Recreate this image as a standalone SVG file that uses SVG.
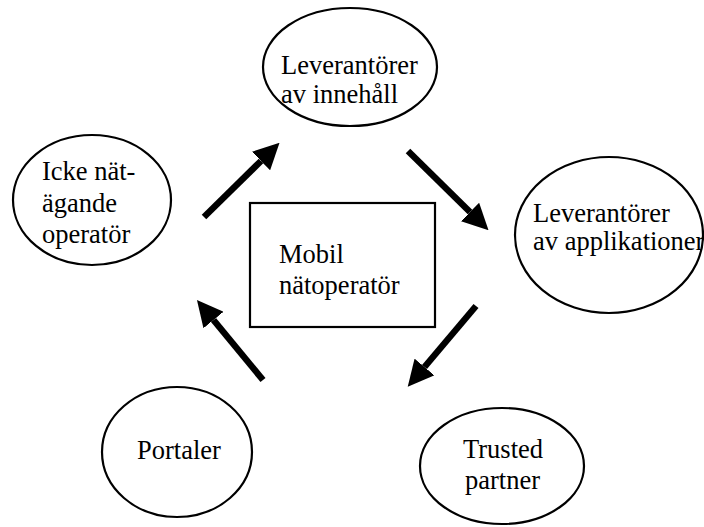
<svg xmlns="http://www.w3.org/2000/svg" width="704" height="527" viewBox="0 0 704 527">
<style>
.node ellipse, .node rect { fill: #fff; stroke: #000; stroke-width: 2.2; }
text { font-family: "Liberation Serif", "Times New Roman", serif; font-size: 26.5px; fill: #000; }
.conn line { stroke: #000; stroke-width: 6.5; }
</style>
<defs>
<marker id="ah" viewBox="0 -13 26 26" refX="0" refY="0" markerWidth="26" markerHeight="26" markerUnits="userSpaceOnUse" orient="auto">
<path d="M0,-13 L26,0 L0,13 z" fill="#000"/>
</marker>
</defs>
<rect width="704" height="527" fill="#fff"/>
<g id="n-innehall" class="node">
<ellipse cx="350" cy="67" rx="87" ry="59"/>
<text x="281" y="74">Leverantörer</text>
<text x="281" y="103">av innehåll</text>
</g>
<g id="n-icke" class="node">
<ellipse cx="92" cy="200" rx="79" ry="65"/>
<text x="42" y="180">Icke nät-</text>
<text x="42" y="212">ägande</text>
<text x="42" y="243">operatör</text>
</g>
<g id="n-applikationer" class="node">
<ellipse cx="609" cy="235" rx="94" ry="78"/>
<text x="533" y="222">Leverantörer</text>
<text x="533" y="250">av applikationer</text>
</g>
<g id="n-mobil" class="node">
<rect x="250" y="203" width="185" height="124"/>
<text x="279" y="263">Mobil</text>
<text x="279" y="294">nätoperatör</text>
</g>
<g id="n-portaler" class="node">
<ellipse cx="177" cy="452" rx="75" ry="65"/>
<text x="137" y="459">Portaler</text>
</g>
<g id="n-trusted" class="node">
<ellipse cx="502" cy="466" rx="82" ry="58"/>
<text x="463" y="458">Trusted</text>
<text x="465" y="489">partner</text>
</g>
<g id="connectors" class="conn">
<line x1="204" y1="217" x2="261" y2="161" marker-end="url(#ah)"/>
<line x1="408" y1="151" x2="470" y2="212" marker-end="url(#ah)"/>
<line x1="476" y1="306" x2="424.5" y2="367" marker-end="url(#ah)"/>
<line x1="263" y1="380" x2="213.5" y2="320" marker-end="url(#ah)"/>
</g>
</svg>
